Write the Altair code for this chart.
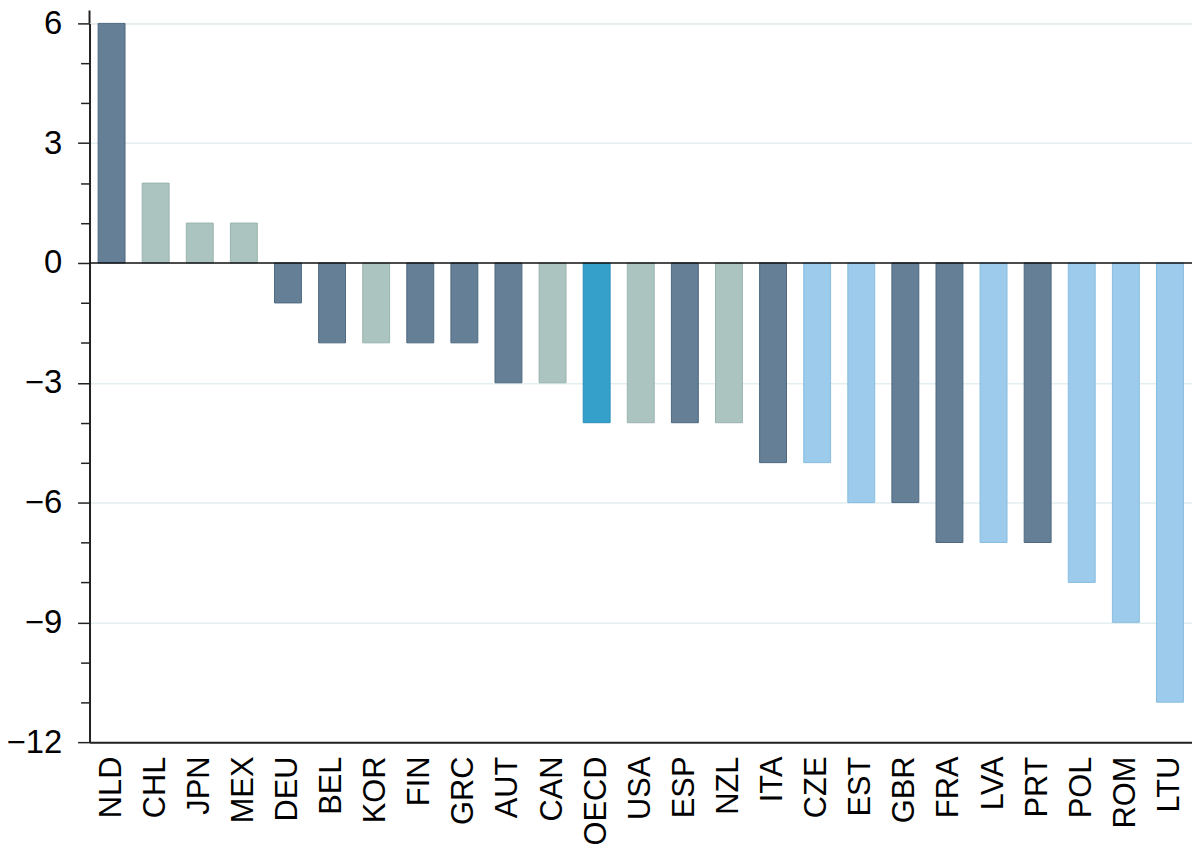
import altair as alt
import pandas as pd

countries = ["NLD", "CHL", "JPN", "MEX", "DEU", "BEL", "KOR", "FIN", "GRC", "AUT",
             "CAN", "OECD", "USA", "ESP", "NZL", "ITA", "CZE", "EST", "GBR", "FRA",
             "LVA", "PRT", "POL", "ROM", "LTU"]
values = [6, 2, 1, 1, -1, -2, -2, -2, -2, -3,
          -3, -4, -4, -4, -4, -5, -5, -6, -6, -7,
          -7, -7, -8, -9, -11]
groups = ["A", "B", "B", "B", "A", "A", "B", "A", "A", "A",
          "B", "O", "B", "A", "B", "A", "C", "C", "A", "A",
          "C", "A", "C", "C", "C"]

group_names = ["A", "B", "O", "C"]
group_fill = ["#647f96", "#acc4bf", "#35a1ca", "#9ccbeb"]
group_stroke = ["#4d687f", "#98b3ae", "#2a8fb8", "#88bce0"]

y_ticks = list(range(-12, 7))
zero_line = [0]

df = pd.DataFrame({"country": countries, "value": values, "group": groups})

FONT = "Liberation Sans"

bars = alt.Chart(df).mark_bar(strokeWidth=1).encode(
    x=alt.X("country:N", sort=countries, title=None,
            scale=alt.Scale(paddingInner=0.39, paddingOuter=0.195),
            axis=alt.Axis(labelAngle=270, ticks=False, labelPadding=14,
                          labelFontSize=31, labelFont=FONT, labelColor="black",
                          domainColor="#222222", domainWidth=2, grid=False)),
    y=alt.Y("value:Q", title=None,
            scale=alt.Scale(domain=[-12, 6], nice=False, zero=False),
            axis=alt.Axis(values=y_ticks,
                          labelExpr="datum.value % 3 === 0 ? replace(datum.label, '-', '\u2212') : ''",
                          labelFontSize=33, labelFont=FONT, labelColor="black",
                          labelPadding=16,
                          tickColor="#222222", tickWidth=1.5,
                          tickSize={"condition": {"test": "datum.value % 3 === 0", "value": 12}, "value": 9},
                          domainColor="#222222", domainWidth=2,
                          grid=True, gridColor="#e3eef1", gridWidth=1.5,
                          gridOpacity={"condition": {"test": "datum.value % 3 === 0 && datum.value !== 0", "value": 1}, "value": 0})),
    color=alt.Color("group:N", scale=alt.Scale(domain=group_names, range=group_fill), legend=None),
    stroke=alt.Stroke("group:N", scale=alt.Scale(domain=group_names, range=group_stroke), legend=None),
)

rule = alt.Chart(pd.DataFrame({"y": zero_line})).mark_rule(color="#111111", strokeWidth=1.5).encode(
    y=alt.Y("y:Q")
)

axis_ext = alt.Chart(pd.DataFrame({"y": zero_line})).mark_rule(color="#222222", strokeWidth=2).encode(
    x=alt.value(0), y=alt.value(-13), y2=alt.value(0)
)

chart = alt.layer(bars, rule, axis_ext).properties(
    width=1109, height=723,
    autosize=alt.AutoSizeParams(type="none"),
    padding={"left": 82, "top": 13, "right": 0, "bottom": 106},
).configure_view(stroke=None).configure(background="white")

chart.save("out.html", embed_options={"renderer": "svg", "actions": False})
